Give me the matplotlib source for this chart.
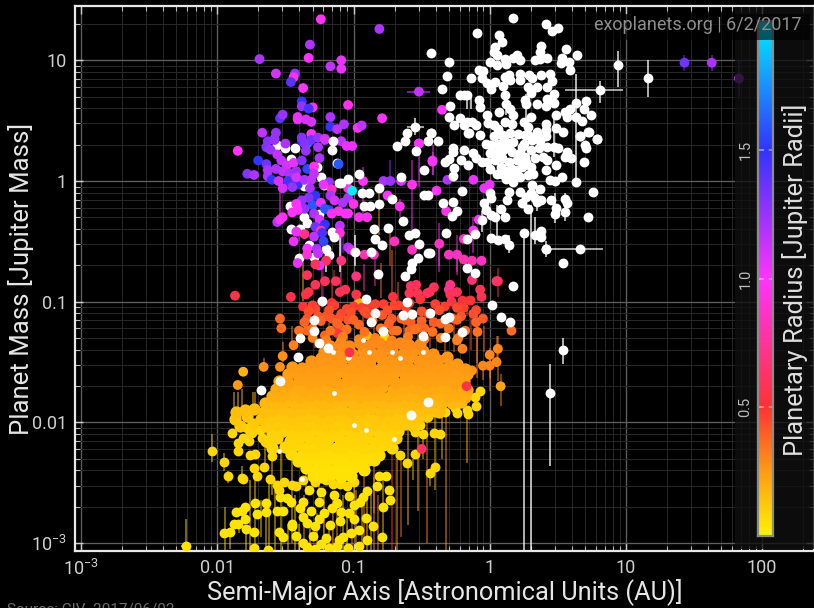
import numpy as np
import matplotlib
matplotlib.use("Agg")
import matplotlib.pyplot as plt
from matplotlib.colors import LinearSegmentedColormap, Normalize
from matplotlib.patches import Rectangle
from matplotlib.ticker import FixedLocator, NullFormatter

plt.rcParams['font.family'] = ['Roboto', 'DejaVu Sans']
plt.rcParams['mathtext.fontset'] = 'custom'
plt.rcParams['mathtext.rm'] = 'Roboto'
plt.rcParams['mathtext.default'] = 'rm'

# ---- data: (log10 a [AU], log10 m [Mjup]) ----
white_planets = [
(0.17,1.35),(0.41,1.30),(0.46,1.24),(0.50,1.27),(-0.09,1.23),(0.07,1.21),(0.09,1.15),(0.04,1.11),(0.03,1.07),(0.05,1.04),
(0.38,1.12),(0.37,1.07),(0.56,1.09),(0.64,1.04),(0.52,0.98),(0.53,1.02),(0.58,0.99),(0.59,0.92),(-0.30,0.99),(-0.43,1.06),
(-0.31,0.87),(-0.35,0.76),(0.00,0.99),(0.05,0.96),(0.11,1.01),(0.12,0.97),(0.17,1.02),(0.20,1.04),(0.22,1.00),(0.33,1.00),
(0.37,1.01),(0.42,1.02),(-0.08,0.92),(-0.05,0.91),(-0.14,0.85),(-0.06,0.85),(-0.02,0.81),(0.01,0.76),(0.04,0.82),(0.10,0.79),
(0.11,0.86),(0.14,0.88),(0.15,0.84),(0.22,0.89),(0.22,0.84),(0.29,0.88),(0.31,0.85),(0.35,0.78),(0.28,0.78),(0.30,0.73),
(0.26,0.67),(0.38,0.88),(0.44,0.89),(0.46,0.83),(0.42,0.78),(0.47,0.72),(0.42,0.68),(0.47,0.65),(0.81,0.75),(-0.19,0.71),
(-0.22,0.71),(-0.17,0.71),(-0.08,0.67),(-0.07,0.61),(-0.29,0.62),(-0.30,0.53),(-0.22,0.52),(-0.26,0.46),(-0.17,0.49),(-0.19,0.46),
(-0.13,0.49),(-0.16,0.40),(-0.10,0.46),(-0.02,0.55),(0.07,0.57),(0.11,0.71),(0.12,0.64),(0.15,0.60),(0.17,0.55),(0.27,0.64),
(0.35,0.64),(0.41,0.62),(0.30,0.53),(0.49,0.55),(0.55,0.57),(0.63,0.65),(0.71,0.66),(0.69,0.60),(0.59,0.60),(0.57,0.53),
(0.63,0.53),(0.68,0.50),(0.74,0.55),(0.41,0.47),(0.41,0.42),(0.49,0.44),(0.54,0.41),(0.73,0.41),(0.66,0.37),(0.79,0.35),
(-0.43,0.40),(-0.07,0.38),(-0.01,0.48),(0.03,0.46),(0.06,0.43),(0.11,0.49),(0.16,0.47),(0.09,0.38),(0.21,0.39),(0.26,0.38),
(0.28,0.45),(0.25,0.49),(0.35,0.39),(0.41,0.37),(0.03,0.37),
(-0.15,0.40),(-0.27,0.27),(-0.27,0.24),(-0.19,0.26),(-0.03,0.31),(-0.12,0.23),(-0.10,0.19),(-0.06,0.16),(-0.21,0.17),(-0.33,0.16),
(-0.30,0.18),(-0.16,0.13),(-0.26,0.11),(-0.27,0.04),(0.09,0.38),(0.15,0.40),(0.28,0.38),(0.35,0.41),(0.01,0.30),(0.06,0.31),
(0.11,0.33),(0.17,0.32),(0.25,0.31),(0.31,0.34),(0.37,0.33),(0.00,0.23),(0.05,0.24),(0.10,0.26),(0.16,0.24),(0.22,0.23),
(0.30,0.26),(0.36,0.27),(0.42,0.28),(-0.02,0.16),(0.04,0.17),(0.09,0.19),(0.14,0.16),(0.20,0.17),(0.27,0.16),(0.33,0.19),
(0.39,0.20),(0.47,0.28),(0.50,0.27),(0.57,0.24),(0.55,0.20),(0.60,0.19),(0.00,0.10),(0.05,0.06),(0.12,0.08),(0.20,0.09),
(0.32,0.06),(0.41,0.09),(0.49,0.13),(0.42,0.17),(0.17,-0.01),(0.31,-0.03),(0.37,-0.07),(0.44,0.01),(0.48,0.00),(0.53,0.03),
(0.63,-0.01),(0.69,0.16),(0.66,0.37),(0.72,0.41),(0.79,0.35),(0.70,0.30),(0.71,0.27),(0.08,0.12),(0.16,0.10),(0.24,0.12),
(0.28,0.05),(0.22,0.03),(0.12,0.02),(0.19,0.05),(0.26,0.20),(0.30,0.12),(0.24,0.28),(0.14,0.28),(0.09,0.06),(0.16,0.03),
(-0.20,-0.08),(-0.27,-0.17),(-0.34,-0.18),(-0.24,-0.25),(-0.28,-0.29),(-0.32,-0.43),(-0.17,-0.48),(0.00,-0.10),(0.01,-0.14),(-0.04,-0.18),
(-0.03,-0.24),(0.01,-0.28),(0.08,-0.23),(0.11,-0.30),(0.04,-0.30),(-0.06,-0.32),(0.14,-0.09),(0.22,-0.09),(0.13,-0.16),(0.24,-0.18),
(0.28,-0.23),(0.27,-0.13),(0.33,-0.14),(0.38,-0.16),(0.35,-0.17),(0.45,-0.16),(0.30,-0.10),(0.55,-0.15),(0.57,-0.18),(0.49,-0.22),
(0.48,-0.27),(0.55,-0.26),(0.72,-0.30),(0.76,-0.09),(0.25,-0.43),(0.33,-0.45),(0.38,-0.41),(0.38,-0.46),(0.41,-0.56),(0.66,-0.56),
(0.54,-0.68),(0.01,-0.47),(0.06,-0.49),(0.11,-0.48),(0.14,-0.53),(-0.11,-0.44),(-0.44,-0.60),
(-0.55,0.45),(-0.61,0.40),(-0.43,0.40),(-0.62,0.33),(-0.68,0.29),(-0.45,0.33),(-0.38,0.33),(-0.54,0.25),(-0.48,0.09),
(-1.15,0.33),(-1.16,0.26),(-1.12,0.15),(-0.96,0.06),(-0.65,0.03),(-1.04,0.02),
(-1.11,-0.02),(-1.09,-0.02),(-0.81,-0.06),(-0.94,-0.10),(-0.89,-0.10),(-0.72,-0.15),(-0.92,-0.21),
(-0.88,-0.21),(-0.81,-0.19),(-0.48,-0.12),(-0.45,-0.12),(-0.64,-0.33),(-0.85,-0.40),(-0.75,-0.39),
(-0.55,-0.43),(-0.59,-0.45),(-1.14,-0.46),(-0.84,-0.48),(-0.79,-0.53),
(-0.52,-0.52),(-0.99,-0.59),(-0.87,-0.59),(-0.45,-0.60),(-0.53,-0.64),(-0.57,-0.68),
(-0.91,-0.98),(-0.84,-1.09),(-0.57,-1.10),(-0.44,-1.09),(-0.33,-1.14),(-0.30,-1.13),(0.02,-1.03),(0.08,-1.13),(0.15,-1.17),
(-1.29,-1.15),(-1.29,-1.24),(-1.23,-0.99),(-1.39,-1.30),(-1.25,-1.34),(-1.19,-1.38),(-1.41,-1.46),(-0.87,-1.17),(-0.78,-1.24),(-0.49,-1.28),
(-0.33,-1.29),(-0.20,-1.25),(-0.61,-1.00),(-0.64,-1.11),(-1.54,-1.66),(-1.68,-1.73),(-0.82,-0.77),(-0.62,-0.79),(-0.58,-0.73),
(-0.17,-0.72),(-0.11,-0.76),(0.17,-0.87),(0.54,-1.40),(0.44,-1.76),(0.94,0.96),(1.16,0.85),(0.41,-0.56),
(-0.45,-1.83),(-0.58,-1.94),
]

# white planets in the hot-Jupiter clump, mostly overlapped by the coloured ones
clump_whites = [
(-1.56,0.30),(-1.50,0.27),(-1.43,0.27),(-1.46,0.18),(-1.27,0.12),(-1.24,0.03),(-1.36,-0.04),(-1.22,-0.03),(-1.47,-0.21),(-1.41,-0.20),
(-1.25,-0.27),(-1.36,-0.30),(-1.34,-0.35),(-1.39,-0.40),(-1.46,-0.40),(-1.16,-0.42),(-1.33,-0.53),(-1.20,-0.56),(-1.18,-0.61),(-1.29,-0.63),(-1.40,-0.64),
]

# white planets nearly buried in the crowd: only a speck of each shows
buried_whites = [(-1.15,-1.42),(-0.89,-1.42),(-0.72,-1.42),(-0.66,-1.47),(-0.49,-1.42),(-1.04,-1.47),(-0.93,-1.32),
                 (-1.14,-1.76),(-1.00,-2.02),(-0.91,-2.06),(-0.70,-2.14),(-1.38,-2.47),(-1.55,-2.24),(-1.03,-1.46)]

# blue/purple/pink/red planets: (log10 a, log10 m, radius [Rjup])
warm_planets = [
(-1.24,1.34,1.0),(-0.81,1.26,1.2),(-1.32,1.13,1.2),(-1.69,1.01,1.2),(-1.33,1.02,1.0),(-1.17,0.95,1.15),(-1.09,1.00,1.05),(-1.09,0.93,1.05),
(-1.57,0.89,1.1),(-1.43,0.89,1.25),(-1.44,0.86,0.95),(-1.46,0.82,1.4),(-1.37,0.77,1.0),(-1.38,0.66,1.5),(-1.38,0.62,1.25),(-1.30,0.61,1.0),
(-1.33,0.60,1.45),(-1.04,0.63,0.95),(-0.79,0.52,1.0),(-1.54,0.52,1.4),(-1.52,0.55,1.25),(-1.41,0.53,1.05),(-1.41,0.51,1.05),(-1.35,0.51,1.1),
(-1.31,0.49,1.1),(-1.17,0.53,1.2),(-1.17,0.45,1.5),(-1.12,0.43,1.15),(-1.07,0.47,1.2),(-0.97,0.44,1.0),(-0.94,0.46,1.15),(-1.67,0.40,1.15),
(-1.57,0.40,1.25),(-1.58,0.35,1.25),(-1.31,0.39,1.0),(-1.38,0.33,1.5),(-1.34,0.31,1.7),(-1.31,0.34,1.35),(-1.26,0.36,1.25),(-1.38,0.36,1.3),
(-1.21,0.34,1.15),(-1.09,0.33,1.15),(-1.05,0.29,1.05),(-1.01,0.29,1.05),
(-1.85,0.25,1.0),(-1.70,0.17,1.5),(-1.78,0.06,1.3),(-1.73,0.05,1.2),(-1.63,0.33,1.3),(-1.64,0.28,1.3),(-1.61,0.26,1.25),(-1.58,0.34,1.25),
(-1.50,0.31,1.2),(-1.56,0.22,1.15),(-1.53,0.17,1.15),(-1.64,0.14,1.35),(-1.57,0.10,1.2),(-1.63,0.09,1.2),(-1.63,0.04,1.2),(-1.60,0.01,1.5),
(-1.55,0.00,1.1),(-1.49,0.13,1.1),(-1.44,0.15,1.05),(-1.52,0.08,1.15),(-1.47,0.06,1.2),(-1.42,0.08,1.25),(-1.38,0.17,1.3),(-1.34,0.10,1.55),
(-1.29,0.12,0.95),(-1.29,0.06,1.15),(-1.48,0.00,1.45),(-1.41,-0.03,1.5),(-1.42,0.03,1.1),(-1.36,0.01,1.2),(-1.31,0.01,1.15),(-1.52,-0.06,1.1),
(-1.45,-0.05,1.25),(-1.32,-0.06,1.2),(-1.36,0.31,1.3),(-1.35,0.25,1.25),(-1.26,0.28,1.2),(-1.21,0.35,1.1),(-1.25,0.19,1.2),(-1.18,-0.01,1.25),
(-1.22,-0.03,1.05),(-1.16,-0.07,0.85),(-1.28,-0.12,1.5),(-1.33,-0.14,1.3),(-1.38,-0.16,1.25),(-1.42,-0.19,1.0),(-1.45,-0.26,1.0),(-1.30,-0.20,1.6),
(-1.24,-0.18,1.05),(-1.18,-0.24,1.55),(-1.21,-0.23,1.6),(-1.36,-0.23,1.25),(-1.29,-0.27,1.2),(-1.41,-0.24,1.0),(-1.16,-0.27,1.0),(-1.11,-0.25,0.95),
(-1.17,-0.12,1.2),(-1.14,-0.16,1.1),(-1.08,-0.18,1.2),(-1.04,-0.14,1.2),(-1.00,-0.19,0.95),(-1.06,-0.27,1.0),(-1.04,-0.27,1.0),(-1.04,-0.06,0.95),
(-1.25,-0.32,1.1),(-1.21,-0.36,1.5),(-1.28,-0.38,1.35),(-1.24,-0.41,0.8),(-1.10,-0.37,1.15),(-1.10,-0.43,0.9),(-1.56,-0.34,1.2),(-1.52,-0.30,0.95),
(-1.54,-0.32,1.0),(-1.42,-0.42,1.05),(-1.36,-0.44,0.7),(-1.29,-0.46,1.15),(-1.23,-0.43,1.45),(-1.22,-0.50,1.55),(-1.44,-0.50,1.05),(-1.27,-0.56,1.2),
(-1.34,-0.56,1.0),(-1.34,-0.61,0.9),(-1.26,-0.60,1.15),(-1.04,-0.55,1.2),(-1.02,-0.57,1.1),(-0.92,-0.61,0.8),(-0.85,-0.61,0.85),(-1.20,-0.66,0.6),
(-1.09,-0.66,0.7),(-1.41,-0.68,1.05),(-1.25,-0.70,1.05),(-1.28,-0.69,0.6),(-0.93,0.00,1.0),(-0.78,0.00,1.2),(-0.73,0.00,1.25),(-0.65,0.00,1.1),
(-0.57,-0.03,0.95),(-0.75,-0.12,1.0),(-0.66,-0.21,0.95),(-0.52,0.31,1.05),(-0.42,0.16,0.95),(-0.96,-0.30,0.95),(-0.90,-0.30,0.95),(-0.70,-0.50,0.85),
(-0.57,-0.57,0.85),(-0.42,0.17,1.0),(-0.31,0.01,1.2),(-0.12,0.01,1.05),(-0.39,-0.08,1.0),(-0.04,-0.06,1.05),(0.00,-0.03,1.05),(-0.32,-0.25,0.95),
(-0.08,-0.32,1.0),(-0.37,-0.52,0.85),(-0.30,-0.61,0.85),(-0.24,-0.61,0.85),(-0.19,-0.65,0.8),(-0.13,-0.66,0.8),(-0.06,-0.66,0.85),(-0.19,-0.48,0.85),
(-0.12,-0.41,1.0),(-0.35,0.59,1.0),(-0.52,0.74,1.15),(-0.52,0.31,1.0),(0.05,-0.83,0.65),
(1.43,0.98,1.35),(1.63,0.98,1.2),(1.83,0.85,1.2),
(-1.87,-0.95,0.55),(-1.46,-0.96,0.55),(-1.34,-0.78,0.6),(-1.28,-0.86,0.6),(-1.21,-0.83,0.6),(-1.13,-0.83,0.6),(-1.33,-0.92,0.55),(-1.35,-0.94,0.55),
(-1.37,-1.04,0.5),(-1.23,-1.00,0.5),(-0.98,-0.79,0.7),(-1.10,-0.92,0.58),(-1.06,-0.90,0.58),(-0.98,-0.94,0.55),(-1.16,-1.01,0.5),(-1.14,-1.03,0.47),
(-1.28,-1.06,0.45),(-1.26,-1.12,0.42),(-1.09,-1.10,0.45),(-1.05,-1.06,0.45),(-1.11,-1.14,0.43),(-0.94,-1.05,0.48),(-0.88,-1.05,0.48),(-0.90,-1.10,0.46),
(-0.78,-1.02,0.47),(-0.71,-0.96,0.52),(-0.70,-1.03,0.46),(-0.67,-1.03,0.46),(-0.79,-1.11,0.42),(-0.72,-1.14,0.42),(-0.58,-0.87,0.62),(-0.54,-0.86,0.6),
(-0.59,-0.93,0.58),(-0.53,-0.93,0.58),(-0.59,-1.01,0.5),(-0.51,-0.98,0.52),(-0.46,-0.93,0.6),(-0.41,-0.88,0.6),(-0.44,-0.92,0.6),(-0.29,-0.86,0.7),
(-0.30,-0.90,0.72),(-0.24,-0.92,0.6),(-0.29,-0.94,0.58),(-0.28,-1.00,0.55),(-0.20,-0.99,0.52),(-0.14,-0.99,0.52),(-0.33,-1.04,0.47),(-0.19,-1.05,0.47),
(-0.07,-0.90,0.58),(-0.06,-0.96,0.58),(0.06,-0.83,0.62),(-0.13,-0.82,0.65),(-0.21,-1.12,0.42),(-0.27,-1.14,0.42),(-0.45,-1.10,0.43),(-0.05,-1.14,0.4),
(-0.09,-1.25,0.35),(0.16,-1.24,0.37),(-0.41,-1.17,0.4),(-0.48,-1.22,0.38),(-0.53,-1.22,0.38),(-0.65,-1.14,0.4),(-0.58,-1.17,0.4),(-0.59,-1.24,0.38),
(-0.71,-1.24,0.37),(-1.54,-1.14,0.38),(-1.53,-1.22,0.36),(-1.34,-1.14,0.43),(-1.34,-1.24,0.38),(-1.20,-1.12,0.42),(-1.10,-1.21,0.38),(-1.16,-1.14,0.42),
(-1.04,-1.15,0.42),(-1.12,-1.26,0.55),(-1.21,-1.28,0.38),(-0.96,-1.19,0.37),
(-1.30,-1.03,0.47),(-1.00,-1.04,0.47),(-0.84,-1.02,0.47),(-0.62,-1.04,0.47),(-0.40,-1.02,0.47),(-0.24,-1.05,0.45),(-0.10,-1.07,0.45),
(-1.33,-1.08,0.43),(-1.18,-1.07,0.43),(-1.02,-1.09,0.43),(-0.92,-1.08,0.43),(-0.75,-1.07,0.43),(-0.60,-1.09,0.43),(-0.50,-1.08,0.43),(-0.37,-1.07,0.43),(-0.12,-1.10,0.43),
(-1.36,-1.17,0.39),(-1.24,-1.16,0.39),(-1.12,-1.18,0.39),(-1.00,-1.15,0.39),(-0.86,-1.16,0.39),(-0.74,-1.18,0.39),(-0.62,-1.15,0.39),(-0.50,-1.16,0.39),(-0.36,-1.18,0.39),(-0.24,-1.15,0.39),(-0.10,-1.17,0.39),
(-1.40,-1.24,0.35),(-1.30,-1.22,0.35),(-1.17,-1.24,0.35),(-1.05,-1.23,0.35),(-0.92,-1.25,0.35),(-0.80,-1.22,0.35),(-0.68,-1.24,0.35),(-0.55,-1.23,0.35),(-0.42,-1.25,0.35),(-0.30,-1.22,0.35),(-0.18,-1.24,0.35),
(-1.30,-1.30,0.32),(-1.20,-1.32,0.32),(-1.08,-1.29,0.32),(-0.96,-1.31,0.32),(-0.84,-1.30,0.32),(-0.72,-1.32,0.32),(-0.60,-1.29,0.32),(-0.48,-1.31,0.32),(-0.36,-1.30,0.32),(-0.24,-1.32,0.32),
]

# planets that sit on top of everything else
top_planets = [(-1.11,0.14,1.6),(-1.01,-0.08,2.0),(-1.03,-1.42,0.55),(-0.17,-1.70,0.55),(-0.50,-2.22,0.62)]

orange_planets = [
(-0.96,-1.01,0.2),(-0.90,-1.28,0.17),(-0.77,-1.29,0.08),(-1.09,-1.32,0.22),
(-0.23,-1.30,0.33),(-0.20,-1.39,0.32),(0.06,-1.39,0.3),(0.00,-1.44,0.3),(-0.13,-1.57,0.27),(-0.05,-1.53,0.3),(0.00,-1.53,0.3),(0.05,-1.50,0.3),
(0.08,-1.70,0.22),(-1.81,-1.58,0.18),(-1.66,-1.54,0.28),(-1.85,-1.69,0.25),(-1.44,-1.36,0.32),(-1.52,-1.45,0.28),(-1.54,-1.54,0.28),(-1.29,-1.54,0.16),
]

# the solid mass of planets, one small list per colour band
band_r = [0.29, 0.27, 0.26, 0.25, 0.24, 0.23, 0.21, 0.19, 0.17, 0.15, 0.13, 0.11, 0.10, 0.09, 0.08, 0.07, 0.06, 0.05, 0.05]
band_01 = [(-1.17,-1.37),(-1.10,-1.35),(-1.03,-1.37),(-0.95,-1.34),(-0.88,-1.36),(-0.81,-1.34),(-0.74,-1.37),(-0.66,-1.34),(-0.59,-1.36),(-0.51,-1.35)]
band_02 = [(-1.22,-1.42),(-1.15,-1.43),(-1.08,-1.41),(-1.01,-1.43),(-0.93,-1.41),(-0.86,-1.43),(-0.79,-1.42),(-0.72,-1.41),(-0.64,-1.43),(-0.57,-1.42),(-0.49,-1.41),(-0.42,-1.43)]
band_03 = [(-1.31,-1.49),(-1.24,-1.47),(-1.17,-1.48),(-1.09,-1.49),(-1.02,-1.47),(-0.95,-1.49),(-0.88,-1.48),(-0.80,-1.47),(-0.73,-1.49),(-0.66,-1.48),(-0.59,-1.47),(-0.52,-1.49),(-0.45,-1.47),(-0.38,-1.48),(-0.31,-1.46)]
band_04 = [(-1.45,-1.54),(-1.38,-1.55),(-1.30,-1.53),(-1.23,-1.55),(-1.16,-1.54),(-1.09,-1.53),(-1.02,-1.55),(-0.95,-1.54),(-0.88,-1.53),(-0.80,-1.55),(-0.73,-1.54),(-0.66,-1.53),(-0.59,-1.55),(-0.51,-1.54),(-0.44,-1.53),(-0.37,-1.55),(-0.30,-1.53),(-0.24,-1.52),(-0.18,-1.56)]
band_05 = [(-1.48,-1.60),(-1.41,-1.61),(-1.34,-1.59),(-1.27,-1.61),(-1.20,-1.60),(-1.12,-1.59),(-1.05,-1.61),(-0.98,-1.60),(-0.91,-1.59),(-0.84,-1.61),(-0.77,-1.60),(-0.70,-1.59),(-0.62,-1.61),(-0.55,-1.60),(-0.48,-1.59),(-0.41,-1.61),(-0.34,-1.60),(-0.27,-1.59),(-0.21,-1.61),(-0.17,-1.60)]
band_06 = [(-1.55,-1.66),(-1.48,-1.67),(-1.40,-1.65),(-1.33,-1.67),(-1.26,-1.66),(-1.19,-1.65),(-1.12,-1.67),(-1.05,-1.66),(-0.97,-1.65),(-0.90,-1.67),(-0.83,-1.66),(-0.76,-1.65),(-0.69,-1.67),(-0.62,-1.66),(-0.54,-1.65),(-0.47,-1.67),(-0.40,-1.66),(-0.33,-1.65),(-0.26,-1.67),(-0.19,-1.66)]
band_07 = [(-1.57,-1.72),(-1.50,-1.73),(-1.43,-1.71),(-1.36,-1.73),(-1.29,-1.72),(-1.22,-1.71),(-1.14,-1.73),(-1.07,-1.72),(-1.00,-1.71),(-0.93,-1.73),(-0.86,-1.72),(-0.79,-1.71),(-0.71,-1.73),(-0.64,-1.72),(-0.57,-1.71),(-0.50,-1.73),(-0.43,-1.72),(-0.36,-1.71),(-0.29,-1.73),(-0.22,-1.72),(-0.17,-1.73)]
band_08 = [(-1.60,-1.78),(-1.53,-1.79),(-1.46,-1.77),(-1.39,-1.79),(-1.32,-1.78),(-1.24,-1.77),(-1.17,-1.79),(-1.10,-1.78),(-1.03,-1.77),(-0.96,-1.79),(-0.89,-1.78),(-0.81,-1.77),(-0.74,-1.79),(-0.67,-1.78),(-0.60,-1.77),(-0.53,-1.79),(-0.46,-1.78),(-0.38,-1.77),(-0.31,-1.79),(-0.24,-1.78),(-0.18,-1.79)]
band_09 = [(-1.65,-1.84),(-1.58,-1.85),(-1.50,-1.83),(-1.43,-1.85),(-1.36,-1.84),(-1.29,-1.83),(-1.22,-1.85),(-1.15,-1.84),(-1.07,-1.83),(-1.00,-1.85),(-0.93,-1.84),(-0.86,-1.83),(-0.79,-1.85),(-0.72,-1.84),(-0.64,-1.83),(-0.57,-1.85),(-0.50,-1.84),(-0.43,-1.83),(-0.36,-1.85),(-0.28,-1.84),(-0.21,-1.83)]
band_10 = [(-1.86,-1.91),(-1.80,-1.90),(-1.73,-1.89),(-1.66,-1.91),(-1.59,-1.90),(-1.52,-1.89),(-1.45,-1.91),(-1.38,-1.90),(-1.30,-1.89),(-1.23,-1.91),(-1.16,-1.90),(-1.09,-1.89),(-1.02,-1.91),(-0.95,-1.90),(-0.87,-1.89),(-0.80,-1.91),(-0.73,-1.90),(-0.66,-1.89),(-0.59,-1.91),(-0.52,-1.90),(-0.44,-1.89),(-0.37,-1.91)]
band_11 = [(-1.87,-1.97),(-1.78,-1.95),(-1.68,-1.97),(-1.60,-1.96),(-1.53,-1.95),(-1.46,-1.97),(-1.39,-1.96),(-1.32,-1.95),(-1.25,-1.97),(-1.18,-1.96),(-1.10,-1.95),(-1.03,-1.97),(-0.96,-1.96),(-0.89,-1.95),(-0.82,-1.97),(-0.75,-1.96),(-0.67,-1.95),(-0.60,-1.97),(-0.53,-1.96),(-0.46,-1.95)]
band_12 = [(-1.83,-2.03),(-1.74,-2.01),(-1.64,-2.03),(-1.56,-2.02),(-1.48,-2.01),(-1.41,-2.03),(-1.34,-2.02),(-1.27,-2.01),(-1.20,-2.03),(-1.12,-2.02),(-1.05,-2.01),(-0.98,-2.03),(-0.91,-2.02),(-0.84,-2.01),(-0.77,-2.03),(-0.69,-2.02),(-0.62,-2.01),(-0.56,-2.03)]
band_13 = [(-1.75,-2.08),(-1.60,-2.09),(-1.52,-2.07),(-1.45,-2.09),(-1.38,-2.08),(-1.31,-2.07),(-1.24,-2.09),(-1.17,-2.08),(-1.09,-2.07),(-1.02,-2.09),(-0.95,-2.08),(-0.88,-2.07),(-0.81,-2.09),(-0.74,-2.08),(-0.67,-2.07)]
band_14 = [(-1.64,-2.15),(-1.56,-2.13),(-1.47,-2.15),(-1.40,-2.14),(-1.33,-2.13),(-1.26,-2.15),(-1.19,-2.14),(-1.11,-2.13),(-1.04,-2.15),(-0.97,-2.14),(-0.90,-2.13),(-0.83,-2.15),(-0.76,-2.14),(-0.69,-2.13)]
band_15 = [(-1.60,-2.21),(-1.50,-2.20),(-1.42,-2.19),(-1.35,-2.21),(-1.28,-2.20),(-1.21,-2.19),(-1.13,-2.21),(-1.06,-2.20),(-0.99,-2.19),(-0.92,-2.21),(-0.85,-2.20),(-0.78,-2.19),(-0.72,-2.21)]
band_16 = [(-1.46,-2.26),(-1.38,-2.27),(-1.31,-2.25),(-1.24,-2.27),(-1.17,-2.26),(-1.09,-2.25),(-1.02,-2.27),(-0.95,-2.26),(-0.88,-2.25),(-0.81,-2.27)]
band_17 = [(-1.41,-2.32),(-1.34,-2.33),(-1.27,-2.31),(-1.20,-2.33),(-1.12,-2.32),(-1.05,-2.31),(-0.98,-2.33),(-0.91,-2.32),(-0.85,-2.31)]
band_18 = [(-1.35,-2.38),(-1.28,-2.39),(-1.21,-2.37),(-1.14,-2.39),(-1.07,-2.38),(-1.00,-2.37),(-0.92,-2.39)]
band_19 = [(-1.30,-2.44),(-1.23,-2.45),(-1.16,-2.43),(-1.09,-2.45),(-1.02,-2.44)]
blob_bands = [band_01, band_02, band_03, band_04, band_05, band_06, band_07, band_08, band_09, band_10,
              band_11, band_12, band_13, band_14, band_15, band_16, band_17, band_18, band_19]

gold_r = 0.08
gold_planets = [
(-2.04,-2.24),(-1.95,-2.33),(-1.92,-2.44),(-1.85,-2.24),(-1.89,-2.09),(-1.82,-2.46),(-1.81,-2.47),(-1.78,-2.05),(-1.85,-2.17),(-1.77,-2.15),
(-1.81,-2.13),(-1.72,-2.26),(-1.76,-2.27),(-1.71,-2.44),(-1.73,-2.38),(-1.66,-2.37),(-1.69,-2.06),(-1.67,-2.13),(-1.63,-2.17),(-1.60,-2.28),
(-1.61,-2.47),(-1.56,-2.52),(-1.55,-2.56),(-1.51,-2.49),(-1.45,-2.52),(-1.42,-2.53),(-1.37,-2.48),(-1.28,-2.49),(-1.20,-2.48),(-1.15,-2.51),
(-1.10,-2.51),(-1.05,-2.53),(-1.00,-2.49),(-1.30,-2.42),(-1.17,-2.42),
(-0.61,-2.34),(-0.55,-2.26),(-0.66,-2.27),(-0.51,-2.02),(-0.55,-2.08),(-0.49,-2.10),(-0.41,-2.09),(-0.365,-2.10),(-0.44,-2.42),(-0.40,-2.37),
(-0.255,-1.88),(-0.24,-1.92),(-0.16,-1.93),(-0.17,-1.90),(-0.10,-1.86),(-0.11,-1.79),(-0.07,-1.74),(-0.31,-1.78),(-0.33,-1.91),(-0.41,-1.91),(-0.49,-1.91),
]
yellow_r = 0.045
yellow_planets = [
(-1.72,-2.67),(-1.645,-2.67),(-1.80,-2.70),(-1.86,-2.74),(-1.82,-2.73),(-1.71,-2.76),(-1.64,-2.74),(-1.80,-2.80),(-1.88,-2.84),(-1.85,-2.84),
(-1.79,-2.88),(-1.95,-2.92),(-1.91,-2.91),(-1.73,-2.91),(-1.73,-3.04),(-1.63,-3.06),(-1.56,-2.73),(-1.52,-2.73),(-1.49,-2.63),(-1.54,-2.62),
(-1.39,-2.71),(-1.37,-2.66),(-1.45,-2.84),(-1.52,-2.95),(-1.55,-2.91),(-1.45,-2.86),(-1.37,-2.78),(-1.31,-2.73),(-1.22,-2.75),(-1.16,-2.71),
(-1.09,-2.74),(-1.03,-2.75),(-0.91,-2.79),(-0.96,-2.89),(-0.90,-2.97),(-0.79,-2.95),(-1.28,-2.86),(-1.17,-2.85),(-1.11,-2.97),(-1.08,-2.95),
(-1.20,-2.96),(-1.37,-3.00),(-1.34,-3.03),(-1.12,-3.02),(-1.04,-3.04),(-0.93,-2.62),(-0.95,-2.66),(-0.90,-2.57),(-0.83,-2.53),(-0.74,-2.56),
(-0.73,-2.64),(-0.78,-2.70),(-0.76,-2.44),(-0.81,-2.44),(-2.23,-3.02),
(-1.33,-2.56),(-1.24,-2.58),(-1.14,-2.60),(-1.03,-2.61),(-1.25,-2.66),(-1.12,-2.67),(-1.00,-2.68),(-1.34,-2.83),(-1.25,-2.80),(-1.10,-2.82),
(-1.00,-2.80),(-1.42,-2.94),(-1.30,-2.94),(-1.24,-3.01),(-1.18,-3.04),(-1.02,-2.92),(-0.96,-3.02),(-1.28,-3.05),(-0.86,-2.86),(-1.46,-2.66),
]

# vertical error bars: (log10 a, log10 low, log10 high, radius; 0 = unknown radius, drawn white)
mass_errors = [
(-1.94,-3.2,-2.70,0.07),(-1.88,-1.92,-1.75,0.12),(-1.82,-2.47,-2.36,0.08),(-1.62,-3.2,-2.48,0.07),(-1.53,-3.2,-2.06,0.07),(-1.72,-3.2,-2.48,0.07),
(-1.79,-3.2,-2.88,0.06),(-0.72,-3.2,-2.00,0.5),(-0.65,-2.95,-2.30,0.35),(-0.60,-2.85,-2.00,0.15),(-0.53,-2.73,-2.10,0.15),(-0.46,-3.0,-1.95,0.3),
(-0.32,-3.2,-1.93,0.25),(-0.17,-2.34,-1.96,0.15),(-0.44,-2.53,-2.42,0.12),(-0.40,-2.56,-1.95,0.15),(-0.49,-2.30,-2.10,0.12),(-0.35,-2.30,-1.95,0.15),
(-0.56,-2.48,-2.30,0.12),(-0.78,-3.2,-2.48,0.12),(-0.68,-3.2,-2.30,0.2),(-0.85,-3.2,-2.30,0.3),(-0.90,-3.2,-2.60,0.1),(-0.98,-3.2,-2.56,0.2),
(-1.05,-3.2,-2.75,0.1),(-1.12,-3.2,-2.67,0.25),(-1.18,-3.2,-2.84,0.1),(-1.27,-3.2,-2.75,0.2),(-1.32,-3.2,-2.84,0.08),(-1.40,-3.2,-2.84,0.1),
(-1.48,-3.2,-2.84,0.1),(-1.58,-3.2,-2.48,0.08),(-1.64,-3.2,-2.76,0.08),(-1.68,-2.95,-2.64,0.08),(-1.76,-3.2,-2.48,0.08),(-1.84,-2.92,-2.86,0.08),
(-1.91,-3.05,-2.95,0.06),(-2.23,-3.2,-2.80,0.06),(-2.04,-2.33,-2.10,0.08),(-1.95,-2.40,-2.25,0.08),(-1.92,-2.50,-2.40,0.08),(-1.65,-2.40,-2.05,0.1),
(-1.60,-2.60,-2.00,0.1),(-1.45,-3.0,-2.10,0.12),(-1.35,-2.60,-2.10,0.2),(-1.25,-2.70,-2.30,0.2),(-1.00,-2.80,-2.45,0.25),(-0.92,-3.0,-2.45,0.3),
(-0.85,-2.75,-2.45,0.3),(-1.85,-1.98,-1.75,0.1),(-1.82,-1.92,-1.72,0.16),(-1.72,-1.90,-1.75,0.15),(-1.74,-1.85,-1.75,0.15),
(-1.37,-0.99,-0.67,0.15),(-1.16,-1.10,-0.85,0.5),(-0.80,-0.97,-0.68,0.33),(-0.72,-0.95,-0.57,0.38),(-1.14,-0.85,-0.74,0.5),(-0.67,-1.07,-0.84,0.38),
(-0.09,-1.51,-1.10,0.36),(-1.45,-1.40,-1.20,0.3),(-1.52,-1.50,-1.33,0.28),(-1.66,-1.57,-1.47,0.25),(0.06,-0.96,-0.72,0.62),(-0.37,-0.70,-0.55,0.9),
(-0.24,-0.78,-0.57,0.8),(-1.23,-1.04,-0.65,0.9),(-0.92,-0.91,-0.69,0.85),(-0.84,-0.87,-0.64,0.8),(0.06,-1.66,-1.28,0.3),(-0.93,-1.35,-1.12,0.35),
(0.0,-1.63,-1.38,0.27),(-0.09,-1.63,-1.27,0.35),(0.0,-1.74,-1.46,0.32),(0.08,-1.86,-1.60,0.27),(0.05,-1.49,-1.28,0.3),(-0.05,-1.65,-1.56,0.3),
(-0.17,-1.12,-0.95,0.42),(-1.54,-0.34,-0.03,1.0),(-0.93,-0.30,0.12,1.0),(-0.57,-0.43,0.17,1.0),(-0.73,0.00,0.17,1.25),(-0.52,-0.05,0.30,1.05),
(-0.42,0.05,0.24,0.95),(-0.81,-0.45,-0.05,0.27),(-0.73,-0.70,-0.40,0.37),(-1.08,-0.60,-0.40,1.3),(-0.66,-0.30,-0.15,1.0),(-1.40,-0.50,-0.36,1.0),
(-1.09,-0.90,-0.45,0.8),(-0.37,-0.75,-0.35,1.0),(-0.24,-0.75,-0.45,0.9),(-0.12,-0.60,-0.30,1.0),(-0.42,0.05,0.30,1.0),
(-1.43,-3.2,-2.60,0.08),(-1.36,-3.2,-2.60,0.25),(-1.22,-3.2,-2.60,0.12),(-1.15,-3.2,-2.60,0.3),(-1.08,-3.2,-2.60,0.1),(-1.01,-3.2,-2.60,0.3),
(-0.94,-3.2,-2.60,0.2),(-0.87,-3.2,-2.60,0.12),(-0.82,-3.2,-2.60,0.3),(-1.28,-1.38,-1.20,0.35),(-1.18,-1.40,-1.18,0.35),(-1.05,-1.38,-1.15,0.3),
(-0.85,-1.35,-1.08,0.35),(-0.76,-1.35,-1.05,0.37),(-0.63,-1.35,-1.10,0.35),(-0.53,-1.38,-1.12,0.35),(-0.44,-1.38,-1.05,0.38),(-0.33,-1.42,-1.10,0.35),
(-0.26,-1.42,-1.15,0.35),(-0.14,-1.40,-1.12,0.4),(-0.04,-1.42,-1.20,0.36),
(1.43,0.91,1.04,1.35),(1.63,0.91,1.04,1.2),(1.83,0.70,1.00,1.2),
(0.94,0.78,1.08,0),(1.16,0.70,1.00,0),(0.81,0.65,0.83,0),(0.54,-1.52,-1.30,0),(0.44,-2.36,-1.52,0),(0.25,-3.2,-0.41,0),(0.30,-3.2,-0.20,0),
(0.63,-0.05,0.89,0),(0.47,0.20,0.55,0),(0.41,-0.63,-0.50,0),(-0.55,0.38,0.52,0),(0.27,0.45,0.72,0),(0.12,0.55,0.72,0),(-0.14,0.60,0.72,0),
(-0.17,0.60,0.72,0),(0.05,-0.50,-0.35,0),(0.14,-0.60,-0.45,0),(0.33,-0.52,-0.30,0),(0.05,-0.35,-0.20,0),(-0.06,-0.42,-0.25,0),(-1.20,-0.75,-0.55,0),
(-1.10,-0.75,-0.45,0),(-0.99,-0.70,-0.45,0),(0.48,-0.35,-0.10,0),(0.55,-0.33,-0.10,0),(0.35,-0.25,-0.05,0),
]
# horizontal error bars: (log10 m, log10 low a, log10 high a, radius)
axis_errors = [(0.75,0.55,0.98,0),(-0.56,0.41,0.83,0),(0.74,-0.61,-0.44,1.15),(0.45,-0.61,-0.48,0),(-3.02,-2.27,-2.19,0.05)]

colorbar_title = "Planetary Radius [Jupiter Radii]"
x_title = "Semi-Major Axis [Astronomical Units (AU)]"
y_title = "Planet Mass [Jupiter Mass]"
x_ticks = [1e-3, 1e-2, 1e-1, 1, 10, 100]
x_tick_labels = ['10$^{-3}$', '0.01', '0.1', '1', '10', '100']
y_ticks = [1e-3, 1e-2, 1e-1, 1, 10]
y_tick_labels = ['10$^{-3}$', '0.01', '0.1', '1', '10']
radius_ticks = [0.5, 1.0, 1.5]
radius_tick_labels = ['0.5', '1.0', '1.5']

# ---- styling ----
W, H = 814, 608
cmap = LinearSegmentedColormap.from_list('exo', [
    (0.0, '#fff200'), (0.125, '#ff9a14'), (0.25, '#ff3333'),
    (0.5, '#ff33ff'), (0.75, '#3333ff'), (1.0, '#00eeff')])
norm = Normalize(0, 2)
def color_of(r):
    return '#ffffff' if r == 0 else cmap(norm(r))

fig = plt.figure(figsize=(W / 100, H / 100), dpi=100, facecolor='black')
L, R, B, T = 75, 814, 550.5, 5.5
ax = fig.add_axes([L / W, 1 - B / H, (R - L) / W, (B - T) / H], facecolor='black')
ax.set_xscale('log'); ax.set_yscale('log')
ax.set_xlim(10 ** -3.045, 10 ** 2.381)
ax.set_ylim(10 ** -3.061, 10 ** 1.454)

minor_x = [k * 10.0 ** e for e in range(-3, 3) for k in range(2, 10)]
minor_y = [k * 10.0 ** e for e in range(-3, 2) for k in range(2, 10)]
ax.xaxis.set_major_locator(FixedLocator(x_ticks)); ax.xaxis.set_minor_locator(FixedLocator(minor_x))
ax.yaxis.set_major_locator(FixedLocator(y_ticks)); ax.yaxis.set_minor_locator(FixedLocator(minor_y))
ax.xaxis.set_minor_formatter(NullFormatter()); ax.yaxis.set_minor_formatter(NullFormatter())
ax.set_xticklabels(x_tick_labels, fontsize=13, color='#cfcfcf')
ax.set_yticklabels(y_tick_labels, fontsize=13, color='#cfcfcf')
ax.grid(True, which='major', color='#5f5f5f', lw=0.95, zorder=0)
ax.grid(True, which='minor', color='#262626', lw=0.75, zorder=0)
ax.set_axisbelow(True)
ax.tick_params(which='major', direction='in', length=6, width=1, color='#cccccc', top=True, right=True, pad=6)
ax.tick_params(which='minor', direction='in', length=3.5, width=0.8, color='#bbbbbb', top=True, right=True)
for s in ax.spines.values():
    s.set_color('#e8e8e8'); s.set_linewidth(1.6)

# error bars
for a, lo, hi, r in mass_errors:
    ax.plot([10 ** a] * 2, [10 ** lo, 10 ** hi], color=color_of(r),
            alpha=0.75 if r == 0 else 0.6, lw=1.3 if r == 0 else 1.1, zorder=2, solid_capstyle='butt')
for m, lo, hi, r in axis_errors:
    ax.plot([10 ** lo, 10 ** hi], [10 ** m] * 2, color=color_of(r), alpha=0.75, lw=1.2, zorder=2, solid_capstyle='butt')

SIZE = 50
BLOB_SIZE = 78
def dots(pts, color, z, size=SIZE):
    p = np.array(pts)
    ax.scatter(10 ** p[:, 0], 10 ** p[:, 1], s=size, color=color, linewidths=0, zorder=z)
def dots_r(pts, z):
    p = np.array(pts)
    ax.scatter(10 ** p[:, 0], 10 ** p[:, 1], s=SIZE, c=p[:, 2], cmap=cmap, norm=norm, linewidths=0, zorder=z)

dots(yellow_planets, cmap(norm(yellow_r)), 3)
dots(gold_planets, cmap(norm(gold_r)), 3.1)
dots_r(orange_planets, 3.2)
dots(clump_whites, 'white', 3.22)
dots_r(warm_planets, 3.25)
for i in range(len(blob_bands) - 1, -1, -1):
    dots(blob_bands[i], cmap(norm(band_r[i])), 3.3 + (len(blob_bands) - i) * 0.01, size=BLOB_SIZE)
dots(white_planets, 'white', 5)
dots(buried_whites, 'white', 5, size=12)
dots_r(top_planets, 6)

# dim panel behind the colour scale
fig.add_artist(Rectangle((735 / W, 1 - 548.5 / H), (W - 735) / W, (548.5 - 7) / H, transform=fig.transFigure,
                         facecolor='#101010', alpha=0.8, edgecolor='none', zorder=10))

# colour scale
cax = fig.add_axes([757.5 / W, 1 - 536 / H, 15.5 / W, (536 - 21) / H], zorder=11)
grad = np.linspace(0, 1, 256).reshape(-1, 1)
cax.imshow(grad, aspect='auto', cmap=cmap, origin='lower', extent=[0, 1, 0, 2])
cax.set_xlim(0, 1); cax.set_ylim(0, 2)
cax.set_xticks([]); cax.set_yticks([])
for s in cax.spines.values():
    s.set_color('#8c8c8c'); s.set_linewidth(1.6)
for v, lab in zip(radius_ticks, radius_tick_labels):
    cax.plot([0, 1], [v, v], color='white', alpha=0.55, lw=1.1, ls=(0, (4, 3)))
    cax.text(-0.78, v, lab, rotation=90, ha='center', va='center', fontsize=10.5,
             color='#bdbdbd', clip_on=False)

# texts
fig.text(445 / W, 1 - 592 / H, x_title, ha='center', va='center', fontsize=18.3, color='#e6e6e6')
fig.text(21 / W, 1 - 279 / H, y_title, ha='center', va='center', rotation=90, fontsize=18.5, color='#e6e6e6')
fig.text(795 / W, 1 - 280 / H, colorbar_title, ha='center', va='center', rotation=90, fontsize=18.4,
         color='#dedede', zorder=12)
fig.add_artist(Rectangle((590 / W, 1 - 40 / H), 220 / W, 26 / H, transform=fig.transFigure,
                         facecolor='black', alpha=0.6, edgecolor='none', zorder=13))
fig.text(594 / W, 1 - 25 / H, "exoplanets.org | 6/2/2017", ha='left', va='center', fontsize=13,
         color='#8e8e8e', zorder=14)
fig.text(7 / W, 1 - 613 / H, "Source: CIV  2017/06/02", ha='left', va='baseline', fontsize=11, color='#6e6e6e')

fig.savefig('out.png', dpi=100, facecolor='black')
